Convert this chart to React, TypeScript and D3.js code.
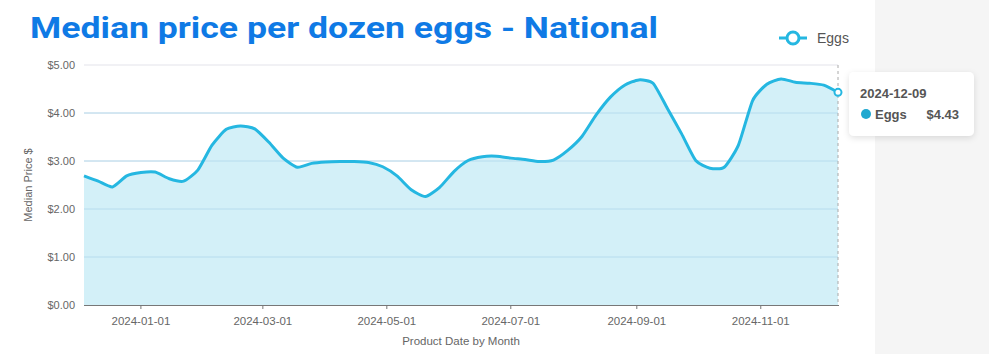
import React from "react";
import * as d3 from "d3";

const dates: string[] = [
  "2023-12-04", "2023-12-11", "2023-12-18", "2023-12-25",
  "2024-01-01", "2024-01-08", "2024-01-15", "2024-01-22", "2024-01-29",
  "2024-02-05", "2024-02-12", "2024-02-19", "2024-02-26",
  "2024-03-04", "2024-03-11", "2024-03-18", "2024-03-25",
  "2024-04-01", "2024-04-08", "2024-04-15", "2024-04-22", "2024-04-29",
  "2024-05-06", "2024-05-13", "2024-05-20", "2024-05-27",
  "2024-06-03", "2024-06-10", "2024-06-17", "2024-06-24",
  "2024-07-01", "2024-07-08", "2024-07-15", "2024-07-22", "2024-07-29",
  "2024-08-05", "2024-08-12", "2024-08-19", "2024-08-26",
  "2024-09-02", "2024-09-09", "2024-09-16", "2024-09-23", "2024-09-30",
  "2024-10-07", "2024-10-14", "2024-10-21", "2024-10-28",
  "2024-11-04", "2024-11-11", "2024-11-18", "2024-11-25",
  "2024-12-02", "2024-12-09",
];

const eggPrices: number[] = [
  2.69, 2.58, 2.46, 2.69,
  2.76, 2.77, 2.63, 2.58, 2.81,
  3.33, 3.66, 3.73, 3.67,
  3.39, 3.06, 2.87, 2.95,
  2.98, 2.99, 2.99, 2.97, 2.88,
  2.69, 2.40, 2.26, 2.45,
  2.78, 3.01, 3.09, 3.10,
  3.06, 3.03, 2.99, 3.02, 3.22,
  3.51, 3.96, 4.33, 4.58,
  4.69, 4.62, 4.10, 3.57, 3.01,
  2.85, 2.87, 3.33, 4.26,
  4.60, 4.71, 4.64, 4.62,
  4.58, 4.43,
];

const yTicks: number[] = [0, 1, 2, 3, 4, 5];

const title = "Median price per dozen eggs - National";
const seriesName = "Eggs";
const yAxisTitle = "Median Price $";
const xAxisTitle = "Product Date by Month";

const W = 989;
const H = 354;
const M = { left: 84, right: 838, top: 65, bottom: 305 };
const LINE = "#25b7e1";
const FILL = "#d3f0f8";
const TEXT = "#666";

export default function App() {
  const parse = d3.timeParse("%Y-%m-%d");
  const fmt = d3.timeFormat("%Y-%m-%d");
  const data = dates.map((d, i) => ({ date: parse(d) as Date, value: eggPrices[i] }));

  const x = d3
    .scaleTime()
    .domain(d3.extent(data, (d) => d.date) as [Date, Date])
    .range([M.left, M.right]);
  const y = d3.scaleLinear().domain([0, 5]).range([M.bottom, M.top]);

  const xTicks = x.ticks(d3.timeMonth.every(2) as d3.TimeInterval);
  const curve = d3.curveCardinal.tension(0.4);

  const line = d3
    .line<{ date: Date; value: number }>()
    .x((d) => x(d.date))
    .y((d) => y(d.value))
    .curve(curve);
  const area = d3
    .area<{ date: Date; value: number }>()
    .x((d) => x(d.date))
    .y0(y(0))
    .y1((d) => y(d.value))
    .curve(curve);

  const last = data[data.length - 1];
  const lx = x(last.date);
  const ly = y(last.value);

  return (
    <svg
      width={W}
      height={H}
      style={{ position: "absolute", left: 0, top: 0, fontFamily: "'Liberation Sans', Arial, sans-serif" }}
    >
      <defs>
        <filter id="shadow" x="-30%" y="-30%" width="160%" height="170%">
          <feDropShadow dx="0" dy="2" stdDeviation="3" floodColor="#000" floodOpacity="0.12" />
        </filter>
      </defs>
      <rect x={0} y={0} width={W} height={H} fill="#fff" />
      <rect x={875} y={0} width={W - 875} height={H} fill="#f5f5f5" />

      <text
        x={30}
        y={38}
        fill="#0f7ae5"
        fontFamily="Roboto, sans-serif"
        fontWeight={700}
        fontSize={30}
        textLength={628}
        lengthAdjust="spacingAndGlyphs"
      >
        {title}
      </text>

      {/* legend */}
      <line x1={779} x2={807} y1={38} y2={38} stroke={LINE} strokeWidth={3} />
      <circle cx={793} cy={38} r={6} fill="#fff" stroke={LINE} strokeWidth={3} />
      <text x={817} y={43} fontSize={14} fill="#555">
        {seriesName}
      </text>

      {/* grid */}
      {yTicks.map((t) => (
        <line key={t} x1={M.left} x2={M.right} y1={y(t)} y2={y(t)} stroke="#e3e3ea" strokeWidth={1} />
      ))}

      <path d={area(data) as string} fill={FILL} />
      {yTicks
        .filter((t) => t > 0 && t < 5)
        .map((t) => (
          <line key={"g" + t} x1={M.left} x2={M.right} y1={y(t)} y2={y(t)} stroke="#b6dcee" strokeWidth={1} />
        ))}

      {/* y ticks labels */}
      {yTicks.map((t) => (
        <text key={"yl" + t} x={75} y={y(t) + 4} textAnchor="end" fontSize={11} fill={TEXT}>
          {d3.format("$.2f")(t)}
        </text>
      ))}
      <text
        transform={`translate(32,${(M.top + M.bottom) / 2}) rotate(-90)`}
        textAnchor="middle"
        fontSize={11}
        fill={TEXT}
      >
        {yAxisTitle}
      </text>

      {/* x axis */}
      <line x1={M.left} x2={M.right + 1} y1={M.bottom + 0.5} y2={M.bottom + 0.5} stroke="#777" strokeWidth={1} />
      {xTicks.map((t) => (
        <g key={t.toISOString()}>
          <line x1={x(t)} x2={x(t)} y1={M.bottom} y2={M.bottom + 4} stroke="#777" />
          <text x={x(t)} y={325} textAnchor="middle" fontSize={11.5} fill={TEXT}>
            {fmt(t)}
          </text>
        </g>
      ))}
      <text x={(M.left + M.right) / 2} y={345} textAnchor="middle" fontSize={11.5} fill={TEXT}>
        {xAxisTitle}
      </text>

      {/* hover line */}
      <line x1={lx} x2={lx} y1={M.top} y2={M.bottom} stroke="#aaa" strokeDasharray="3,3" strokeWidth={1} />

      <path d={line(data) as string} fill="none" stroke={LINE} strokeWidth={3} strokeLinejoin="round" />
      <circle cx={lx} cy={ly} r={3.5} fill="#fff" stroke={LINE} strokeWidth={2} />

      {/* tooltip */}
      <g filter="url(#shadow)">
        <rect x={849} y={72} width={125} height={64} rx={5} fill="#fff" />
      </g>
      <text x={860} y={98} fontSize={13} fontWeight={700} fill="#555">
        {fmt(last.date)}
      </text>
      <circle cx={866} cy={114} r={5} fill="#1fa8d0" />
      <text x={875} y={119} fontSize={13} fontWeight={700} fill="#555">
        {seriesName}
      </text>
      <text x={959} y={119} fontSize={13} fontWeight={700} fill="#555" textAnchor="end">
        {d3.format("$.2f")(last.value)}
      </text>
    </svg>
  );
}
